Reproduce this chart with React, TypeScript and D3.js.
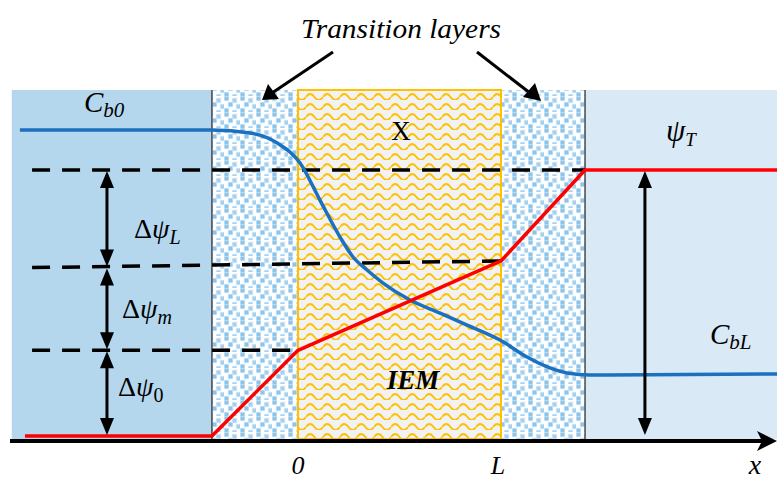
import React from 'react';
import * as d3 from 'd3';

// positions along x are in units of the membrane thickness L (0 = left face, 1 = right face)
const regionStart = [-1.41, -0.424, 0, 1, 1.414];
const regionEnd = [-0.424, 0, 1, 1.414, 2.36];
const regionKind = ['bulk0', 'trans', 'iem', 'trans', 'bulkL'];

// potential profile (red), normalised to psi_T = 1
const psiX = [-1.345, -0.424, 0, 1, 1.414, 2.36];
const psiY = [0, 0, 0.322, 0.658, 1, 1];

// concentration profile (blue)
const concX = [-1.37, -0.424, -0.236, -0.103, 0.01, 0.108, 0.207, 0.271, 0.34, 0.419, 0.552, 0.7, 0.833, 0.995, 1.128, 1.241, 1.325, 1.438, 2.36];
const concY = [1.15, 1.15, 1.139, 1.102, 1.026, 0.887, 0.748, 0.673, 0.624, 0.575, 0.511, 0.462, 0.417, 0.361, 0.297, 0.256, 0.237, 0.229, 0.233];

// dashed guide lines
const dashX0 = [-1.31, -1.31, -1.31];
const dashY0 = [1, 0.633, 0.322];
const dashX1 = [1.414, 1, 0];
const dashY1 = [1, 0.658, 0.322];

// double arrows
const arrowX = [-0.941, -0.941, -0.941, 1.709];
const arrowFrom = [1, 0.633, 0.322, 1];
const arrowTo = [0.633, 0.322, 0, 0];

const App = () => {
  const x = d3.scaleLinear().domain([0, 1]).range([298, 501]);
  const y = d3.scaleLinear().domain([0, 1]).range([436, 170]);
  const top = 90;
  const bottom = 439;
  const axisY = 441;

  const psiLine = d3.line<number>().x((_, i) => x(psiX[i])).y(d => y(d));
  const concLine = d3.line<number>().x((_, i) => x(concX[i])).y(d => y(d)).curve(d3.curveMonotoneX);

  const fillFor = (k: string) =>
    k === 'bulk0' ? '#b4d7ee' : k === 'bulkL' ? '#d9e9f5' : k === 'iem' ? 'url(#iem)' : 'url(#trans)';

  const math = '"Liberation Serif", "DejaVu Serif", serif';

  const arrowHead = (ax: number, ay: number, dir: number) =>
    `M${ax},${ay} L${ax - 7},${ay - dir * 17} L${ax + 7},${ay - dir * 17} Z`;

  const sq = [[0.5, 0.5], [8.5, 2.5], [4.5, 6.5], [12.5, 8.5], [0.5, 12.5], [8.5, 14.5]];

  return (
    <svg width={777} height={481} style={{ position: 'absolute', left: 0, top: 0 }}>
      <defs>
        <pattern id="trans" width={16} height={16} patternUnits="userSpaceOnUse">
          <rect width={16} height={16} fill="#ffffff" />
          {sq.map((s, i) => (
            <g key={i}>
              <rect x={s[0] - 0.7} y={s[1] - 0.7} width={5.4} height={5.4} fill="#e2f0fa" />
              <rect x={s[0]} y={s[1]} width={4} height={4} fill={i % 2 ? '#a5d0ef' : '#8ec4e9'} />
            </g>
          ))}
        </pattern>
        <pattern id="iem" width={17} height={10} patternUnits="userSpaceOnUse">
          <rect width={17} height={10} fill="#f2f2f2" />
          <path d="M0,7 Q4.25,1 8.5,7 T17,7" fill="none" stroke="#ffc000" strokeWidth={1.8} />
        </pattern>
      </defs>

      {regionKind.map((k, i) => (
        <rect key={i} x={x(regionStart[i])} y={top} width={x(regionEnd[i]) - x(regionStart[i])}
          height={bottom - top} fill={fillFor(k)} />
      ))}
      <rect x={x(0)} y={top} width={x(1) - x(0)} height={bottom - top} fill="none" stroke="#ffc000" strokeWidth={2} />
      <line x1={x(-0.424)} x2={x(-0.424)} y1={top} y2={bottom} stroke="#333" strokeWidth={1.3} />
      <line x1={x(1.414)} x2={x(1.414)} y1={top} y2={bottom} stroke="#333" strokeWidth={1.3} />

      {dashX0.map((d, i) => (
        <line key={i} x1={x(d)} y1={y(dashY0[i])} x2={x(dashX1[i])} y2={y(dashY1[i])}
          stroke="#000" strokeWidth={3.5} strokeDasharray="18,12" />
      ))}

      <path d={concLine(concY) || ''} fill="none" stroke="#1b70c0" strokeWidth={3.5} />
      <path d={psiLine(psiY) || ''} fill="none" stroke="#ff0000" strokeWidth={3.5} strokeLinejoin="round" />

      {arrowX.map((ax, i) => {
        const px = x(ax);
        const y0 = y(arrowFrom[i]) + 1;
        const y1 = y(arrowTo[i]) - 1;
        return (
          <g key={i}>
            <line x1={px} x2={px} y1={y0 + 15} y2={y1 - 15} stroke="#000" strokeWidth={3} />
            <path d={arrowHead(px, y0, -1)} fill="#000" />
            <path d={arrowHead(px, y1, 1)} fill="#000" />
          </g>
        );
      })}

      {/* x axis */}
      <line x1={10} x2={765} y1={axisY} y2={axisY} stroke="#000" strokeWidth={4} />
      <path d={`M777,${axisY} L757,${axisY - 10} L762,${axisY} L757,${axisY + 10} Z`} fill="#000" />

      {/* transition layer pointers */}
      <line x1={333} y1={52} x2={272} y2={93} stroke="#000" strokeWidth={3} />
      <path d="M262,100 L268,84 L279,99 Z" fill="#000" />
      <line x1={477} y1={52} x2={530} y2={93} stroke="#000" strokeWidth={3} />
      <path d="M541,101 L523,97 L535,83 Z" fill="#000" />

      <text x={301} y={38} textLength={200} lengthAdjust="spacingAndGlyphs" fontFamily={math} fontStyle="italic" fontSize={27}>Transition layers</text>

      <text x={84} y={112} fontFamily={math} fontStyle="italic" fontSize={29}>C<tspan fontSize={21} dy={5}>b0</tspan></text>
      <text x={401} y={140} textAnchor="middle" fontFamily={math} fontSize={27}>X</text>
      <text x={666} y={141} fontFamily={math} fontStyle="italic" fontSize={31}>ψ<tspan fontSize={19} dy={5}>T</tspan></text>
      <text x={710} y={344} fontFamily={math} fontStyle="italic" fontSize={29}>C<tspan fontSize={21} dy={5}>bL</tspan></text>

      <text x={134} y={238} fontFamily={math} fontSize={28}>Δ<tspan fontStyle="italic">ψ</tspan><tspan fontStyle="italic" fontSize={20} dy={6}>L</tspan></text>
      <text x={122} y={318} fontFamily={math} fontSize={28}>Δ<tspan fontStyle="italic">ψ</tspan><tspan fontStyle="italic" fontSize={20} dy={6}>m</tspan></text>
      <text x={118} y={396} fontFamily={math} fontSize={28}>Δ<tspan fontStyle="italic">ψ</tspan><tspan fontSize={20} dy={6}>0</tspan></text>

      <text x={413} y={389} textAnchor="middle" fontFamily={math} fontStyle="italic" fontWeight="bold" fontSize={27}>IEM</text>

      <text x={x(0)} y={474} textAnchor="middle" fontFamily={math} fontStyle="italic" fontSize={26}>0</text>
      <text x={x(1) - 3} y={474} textAnchor="middle" fontFamily={math} fontStyle="italic" fontSize={26}>L</text>
      <text x={755} y={474} textAnchor="middle" fontFamily={math} fontStyle="italic" fontSize={28}>x</text>
    </svg>
  );
};

export default App;
